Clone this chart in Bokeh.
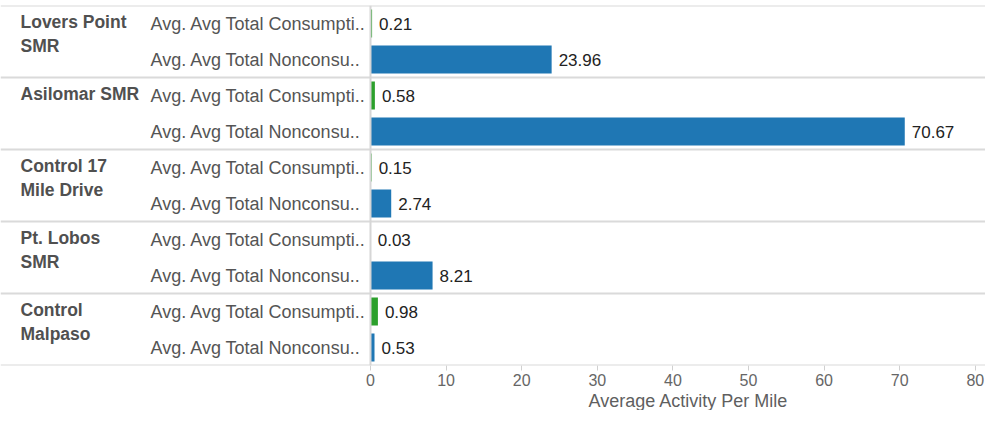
from bokeh.plotting import figure
from bokeh.models import Range1d, Span, FixedTicker, Title, ColumnDataSource
from bokeh.core.properties import value
from bokeh.embed import file_html
from bokeh.resources import INLINE

# ---- data ----
sites = ["Lovers Point\nSMR", "Asilomar SMR", "Control 17\nMile Drive", "Pt. Lobos\nSMR", "Control\nMalpaso"]
measures = ["Avg. Avg Total Consumpti..", "Avg. Avg Total Nonconsu.."]
consumptive = [0.21, 0.58, 0.15, 0.03, 0.98]
nonconsumptive = [23.96, 70.67, 2.74, 8.21, 0.53]
x_ticks = [0, 10, 20, 30, 40, 50, 60, 70, 80]
axis_title = "Average Activity Per Mile"
measure_colors = ["#2ca02c", "#1f77b4"]

# ---- layout ----
FONT = "Liberation Sans"
W, H = 985, 410
PPU = 7.56          # pixels per unit
ZERO_PX = 370       # frame x of value 0
x_start = -ZERO_PX / PPU
x_end = (W - ZERO_PX) / PPU
n_rows = 2 * len(sites)

ys, vals, cols, vtexts, mtexts = [], [], [], [], []
for i, (c, n) in enumerate(zip(consumptive, nonconsumptive)):
    for j, v in enumerate((c, n)):
        ys.append(2 * i + 0.5 + j)
        vals.append(v)
        cols.append(measure_colors[j])
        vtexts.append(f"{v:.2f}")
        mtexts.append(measures[j])

src = ColumnDataSource(dict(y=ys, v=vals, color=cols, vt=vtexts, mt=mtexts,
                            x0=[x_start] * len(ys)))
gsrc = ColumnDataSource(dict(y=[2 * i for i in range(len(sites))], name=sites,
                             x0=[x_start] * len(sites)))

p = figure(width=W, height=H, x_range=Range1d(x_start, x_end),
           y_range=Range1d(n_rows, 0), output_backend="svg",
           toolbar_location=None, y_axis_location=None,
           min_border_left=0, min_border_right=0, min_border_top=5,
           min_border_bottom=0)
p.xgrid.visible = False
p.ygrid.visible = False
p.outline_line_color = None
p.background_fill_color = "white"
p.border_fill_color = "white"

# separators
for k in range(0, n_rows + 1, 2):
    p.add_layout(Span(location=k, dimension="width", line_color="#dadada", line_width=2))
p.add_layout(Span(location=0, dimension="height", line_color="#d6d6d6", line_width=2))

p.hbar(y="y", left=0, right="v", height=0.78, fill_color="color",
       line_color=None, source=src)

p.text(x="v", y="y", text="vt", source=src, x_offset=7, text_baseline="middle",
       text_align="left", text_font=value(FONT), text_font_size="17px",
       text_color="#222222")
p.text(x="x0", y="y", text="mt", source=src, x_offset=150, text_baseline="middle",
       text_align="left", text_font=value(FONT), text_font_size="18px",
       text_color="#555555")
p.text(x="x0", y="y", text="name", source=gsrc, x_offset=20, y_offset=6,
       text_baseline="top", text_align="left", text_font=value(FONT),
       text_font_size="17.5px", text_font_style="bold", text_color="#505050",
       text_line_height=1.2)

ax = p.xaxis[0]
ax.ticker = FixedTicker(ticks=x_ticks)
ax.axis_line_color = None
ax.major_tick_line_color = "#d0d0d0"
ax.major_tick_out = 5
ax.major_tick_in = 0
ax.minor_tick_line_color = None
ax.major_label_text_font = FONT
ax.major_label_text_font_size = "16px"
ax.major_label_text_color = "#666666"
ax.major_label_standoff = 3

title_w = 196
title_center = 686
p.add_layout(Title(text=axis_title, align="left", offset=title_center - title_w / 2,
                   text_font=FONT, text_font_size="18px", text_font_style="normal",
                   text_color="#5f5f5f", standoff=0), "below")

open("out.html", "w").write(file_html(p, INLINE))
